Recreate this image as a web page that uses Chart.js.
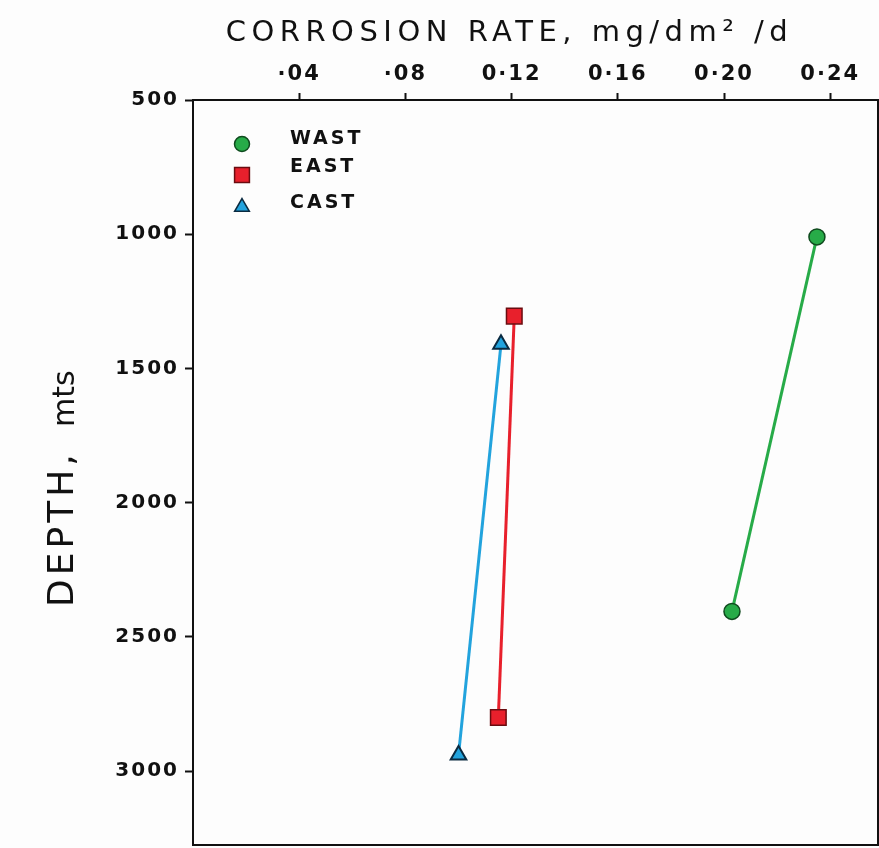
<!DOCTYPE html>
<html>
<head>
<meta charset="utf-8">
<script src="https://cdn.jsdelivr.net/npm/chart.js@4"></script>
<style>
  html, body { margin: 0; padding: 0; background: #fdfdfd; }
  #wrap { width: 879px; height: 848px; }
</style>
</head>
<body>
<div id="wrap"><canvas id="corrosionChart" width="879" height="848"></canvas></div>
<script>
// data
const seriesNames = ['WAST', 'EAST', 'CAST'];
const wastRate = [0.235, 0.203];
const wastDepth = [1010, 2405];
const eastRate = [0.121, 0.115];
const eastDepth = [1305, 2800];
const castRate = [0.116, 0.100];
const castDepth = [1410, 2940];

const rateTicks = [0.04, 0.08, 0.12, 0.16, 0.20, 0.24];
const rateTickLabels = ['·04', '·08', '0·12', '0·16', '0·20', '0·24'];
const depthTicks = [500, 1000, 1500, 2000, 2500, 3000];

const xTitle = 'CORROSION RATE, mg/dm² /d';
const yTitleMain = 'DEPTH,';
const yTitleUnit = 'mts';

const FONT = '"DejaVu Sans", sans-serif';

function toPoints(xs, ys) {
    return xs.map((x, i) => ({ x: x, y: ys[i] }));
}

// frame round the plot + spaced-out axis titles (lettering style of the original)
const boxPlugin = {
    id: 'box',
    beforeDraw(chart) {
        chart.ctx.letterSpacing = '2px';
    },
    afterDraw(chart) {
        const { ctx, chartArea: a } = chart;
        ctx.save();
        ctx.strokeStyle = '#111';
        ctx.lineWidth = 2;
        ctx.strokeRect(a.left, a.top, a.right - a.left, a.bottom - a.top);

        ctx.fillStyle = '#111';
        ctx.textAlign = 'center';
        ctx.textBaseline = 'middle';
        ctx.font = '29px ' + FONT;
        ctx.letterSpacing = '5.5px';
        ctx.fillText(xTitle, (a.left + a.right) / 2 - 26, 33);

        // rotated y title, reads bottom to top
        ctx.translate(64, 0);
        ctx.rotate(-Math.PI / 2);
        ctx.textAlign = 'left';
        ctx.font = '36px ' + FONT;
        ctx.letterSpacing = '4px';
        ctx.fillText(yTitleMain, -607, 0);
        ctx.font = '30px ' + FONT;
        ctx.letterSpacing = '0px';
        ctx.fillText(yTitleUnit, -427, 2);
        ctx.restore();
    }
};

// legend sits inside the plot, top left
const insideLegend = {
    id: 'insideLegend',
    afterDatasetsDraw(chart) {
        const ctx = chart.ctx;
        const markerY = [144, 175, 207];
        const textY = [139, 167, 203];
        ctx.save();
        ctx.font = 'bold 19px ' + FONT;
        ctx.letterSpacing = '3px';
        ctx.textBaseline = 'middle';
        chart.data.datasets.forEach((ds, i) => {
            ctx.fillStyle = ds.backgroundColor;
            ctx.strokeStyle = ds.pointBorderColor;
            ctx.lineWidth = 1.5;
            Chart.helpers.drawPoint(ctx, { pointStyle: ds.pointStyle, radius: ds.pointRadius - 0.5, borderWidth: 1.5 }, 242, markerY[i]);
            ctx.fillStyle = '#111';
            ctx.fillText(ds.label, 290, textY[i]);
        });
        ctx.restore();
    }
};

const ctx = document.getElementById('corrosionChart').getContext('2d');
new Chart(ctx, {
    type: 'scatter',
    data: {
        datasets: [
            {
                label: seriesNames[0],
                data: toPoints(wastRate, wastDepth),
                showLine: true,
                borderColor: '#27ab48',
                backgroundColor: '#27ab48',
                pointBorderColor: '#0f4a1e',
                borderWidth: 3,
                pointStyle: 'circle',
                pointRadius: 8,
                pointBorderWidth: 1.5
            },
            {
                label: seriesNames[1],
                data: toPoints(eastRate, eastDepth),
                showLine: true,
                borderColor: '#e8202c',
                backgroundColor: '#e8202c',
                pointBorderColor: '#6a0c10',
                borderWidth: 3,
                pointStyle: 'rect',
                pointRadius: 11,
                pointBorderWidth: 1.5
            },
            {
                label: seriesNames[2],
                data: toPoints(castRate, castDepth),
                showLine: true,
                borderColor: '#22a3dd',
                backgroundColor: '#22a3dd',
                pointBorderColor: '#0a2a40',
                borderWidth: 3,
                pointStyle: 'triangle',
                pointRadius: 9,
                pointBorderWidth: 2
            }
        ]
    },
    options: {
        responsive: false,
        animation: false,
        layout: { autoPadding: false, padding: { left: 0, right: 1, top: 0, bottom: 3 } },
        scales: {
            x: {
                type: 'linear',
                position: 'top',
                min: 0,
                max: 0.258,
                afterFit: s => { s.height = 100; s.paddingLeft = 0; s.paddingRight = 0; },
                afterBuildTicks: s => { s.ticks = rateTicks.map(v => ({ value: v })); },
                ticks: {
                    color: '#111',
                    padding: 6,
                    font: { family: FONT, size: 21, weight: 'bold' },
                    callback: (v) => rateTickLabels[rateTicks.findIndex(t => Math.abs(t - v) < 1e-9)]
                },
                grid: { drawOnChartArea: false, drawTicks: true, tickLength: 7, tickColor: '#111', tickWidth: 2 },
                border: { display: true, color: '#111', width: 2 },
                title: { display: false }
            },
            y: {
                type: 'linear',
                reverse: true,
                min: 500,
                max: 3275,
                afterFit: s => { s.width = 193; s.paddingTop = 0; s.paddingBottom = 0; },
                afterBuildTicks: s => { s.ticks = depthTicks.map(v => ({ value: v })); },
                ticks: {
                    color: '#111',
                    padding: 6,
                    font: { family: FONT, size: 20, weight: 'bold' },
                    callback: (v) => String(v)
                },
                grid: { drawOnChartArea: false, drawTicks: true, tickLength: 8, tickColor: '#111', tickWidth: 2 },
                border: { display: true, color: '#111', width: 2 },
                title: { display: false }
            }
        },
        plugins: {
            legend: { display: false },
            tooltip: { enabled: false }
        }
    },
    plugins: [boxPlugin, insideLegend]
});
</script>
</body>
</html>
